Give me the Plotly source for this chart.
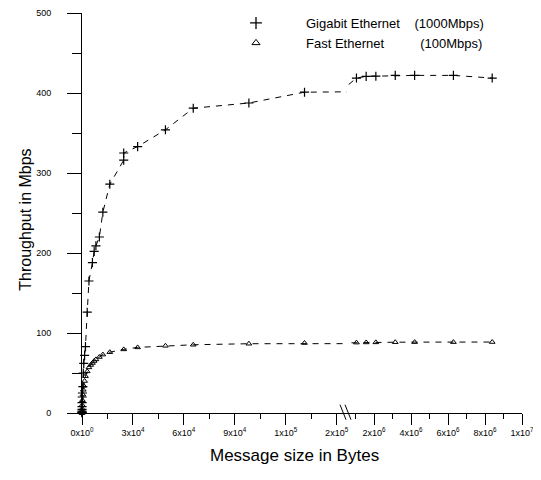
import plotly.graph_objects as go

# ---------------- data ----------------
gige_size = [1, 2, 4, 8, 16, 32, 64, 128, 256, 512,
             768, 1024, 1536, 2048, 3072, 4096,
             6144, 7168, 8192, 10240, 12288, 16384,
             24576, 24576, 32768, 49152, 65536, 98304, 131072,
             1048576, 1572864, 2097152, 3145728, 4194304, 6291456, 8388608]
gige_tput = [0.3, 0.6, 1.2, 2.4, 4.5, 8, 13, 20, 25, 33,
             50, 62, 72, 83, 126, 165,
             188, 202, 209, 220, 251, 286,
             316, 325, 333, 354, 381, 387.5, 401,
             418.7, 420.8, 421, 422, 422, 422, 418.7]

fe_size = [1, 2, 4, 8, 16, 32, 64, 128, 256, 512,
           768, 1024, 1536, 2048, 3072, 4096,
           5120, 6144, 7168, 8192, 10240, 12288, 16384,
           24576, 32768, 49152, 65536, 98304, 131072,
           1048576, 1572864, 2097152, 3145728, 4194304, 6291456, 8388608]
fe_tput = [0.1, 0.2, 0.4, 0.8, 1.5, 3, 5.5, 10, 16, 23,
           29, 34, 40, 46, 52, 57,
           60, 62.5, 65, 67, 70, 73, 76,
           79.5, 82, 84, 85.3, 86.6, 87.5,
           88, 88.2, 88.3, 88.5, 88.6, 88.6, 88.7]

legend_names = ["Gigabit Ethernet\u00a0\u00a0\u00a0\u00a0(1000Mbps)",
                "Fast Ethernet" + "\u00a0" * 10 + "(100Mbps)"]

x_left_tickvals = [0, 30000, 60000, 90000, 120000, 150000]
x_left_ticktext = ["0x10<sup>0</sup>", "3x10<sup>4</sup>", "6x10<sup>4</sup>",
                   "9x10<sup>4</sup>", "1x10<sup>5</sup>", "2x10<sup>5</sup>"]
x_left_minor = [15000, 45000, 75000, 105000, 135000]
x_right_tickvals = [2e6, 4e6, 6e6, 8e6, 1e7]
x_right_ticktext = ["2x10<sup>6</sup>", "4x10<sup>6</sup>", "6x10<sup>6</sup>",
                    "8x10<sup>6</sup>", "1x10<sup>7</sup>"]
x_right_minor = [1e6, 3e6, 5e6, 7e6, 9e6]
y_tickvals = [0, 100, 200, 300, 400, 500]

# ---------------- layout constants ----------------
# the page body adds an 8px offset, so the figure is 8px smaller than the window
W, H = 533, 472
L, R, T, B = 74, 19, 5, 67
PW, PH = W - L - R, H - T - B          # 440 x 400
X0_WIN, Y0_WIN = 82, 413.3             # plot-area origin in window pixels
BREAK_PX = 347
split = (BREAK_PX - X0_WIN) / PW
left_max = 156100
right_min = 537000
font_family = "Liberation Sans, Arial, sans-serif"


def px2paper(px, py):
    return (px - X0_WIN) / PW, (Y0_WIN - py) / PH


def split_series(sizes, vals):
    # left part + first right point (for the connecting line); right part + last left point
    li = [i for i, s in enumerate(sizes) if s <= left_max]
    ri = [i for i, s in enumerate(sizes) if s > left_max]
    lx = [sizes[i] for i in li] + [sizes[ri[0]]]
    ly = [vals[i] for i in li] + [vals[ri[0]]]
    rx = [sizes[li[-1]]] + [sizes[i] for i in ri]
    ry = [vals[li[-1]]] + [vals[i] for i in ri]
    return lx, ly, rx, ry


fig = go.Figure()

line_style = dict(color="black", width=1, dash="6px,6px")
gige_marker = dict(symbol="cross-thin", size=6.5, line=dict(color="black", width=1.2), color="black")
fe_marker = dict(symbol="triangle-up-open", size=5, line=dict(color="black", width=1), color="black")

for sizes, vals, mk in [(gige_size, gige_tput, gige_marker), (fe_size, fe_tput, fe_marker)]:
    lx, ly, rx, ry = split_series(sizes, vals)
    fig.add_trace(go.Scatter(x=lx, y=ly, mode="lines+markers", line=line_style, marker=mk,
                             xaxis="x", yaxis="y", showlegend=False, cliponaxis=False,
                             hoverinfo="x+y"))
    fig.add_trace(go.Scatter(x=rx, y=ry, mode="lines+markers", line=line_style, marker=mk,
                             xaxis="x2", yaxis="y", showlegend=False, cliponaxis=True,
                             hoverinfo="x+y"))

# legend-only entries (symbols without line)
fig.add_trace(go.Scatter(x=[None], y=[None], mode="markers", name=legend_names[0],
                         marker=dict(symbol="cross-thin", size=8.5,
                                     line=dict(color="black", width=1.3), color="black")))
fig.add_trace(go.Scatter(x=[None], y=[None], mode="markers", name=legend_names[1],
                         marker=dict(symbol="triangle-up-open", size=7,
                                     line=dict(color="black", width=1), color="black")))

axis_common = dict(showline=True, linecolor="black", linewidth=1, ticks="outside",
                   tickcolor="black", tickwidth=1, showgrid=False, zeroline=False,
                   tickfont=dict(family=font_family, size=9, color="black"))

fig.update_layout(
    width=W, height=H,
    margin=dict(l=L, r=R, t=T, b=B, autoexpand=False),
    paper_bgcolor="white", plot_bgcolor="white",
    font=dict(family=font_family, color="black"),
    xaxis=dict(domain=[0, split], range=[0, left_max], anchor="y",
               tickmode="array", tickvals=x_left_tickvals, ticktext=x_left_ticktext,
               ticklen=11,
               minor=dict(tickmode="array", tickvals=x_left_minor, ticklen=5,
                          tickcolor="black", ticks="outside", showgrid=False),
               **axis_common),
    xaxis2=dict(domain=[split, 1], range=[right_min, 1e7], anchor="y",
                tickmode="array", tickvals=x_right_tickvals, ticktext=x_right_ticktext,
                ticklen=11,
                minor=dict(tickmode="array", tickvals=x_right_minor, ticklen=5,
                           tickcolor="black", ticks="outside", showgrid=False),
                **axis_common),
    yaxis=dict(domain=[0, 1], range=[0, 500], anchor="x",
               tickmode="array", tickvals=y_tickvals, ticklen=14,
               ticklabelstandoff=14,
               minor=dict(dtick=50, tick0=0, ticklen=9, tickcolor="black",
                          ticks="outside", showgrid=False),
               **axis_common),
    legend=dict(x=px2paper(206, 0)[0], y=px2paper(0, 8.3)[1], xanchor="left", yanchor="top",
                bgcolor="rgba(0,0,0,0)", borderwidth=0, itemwidth=90,
                font=dict(family=font_family, size=13, color="black"),
                itemclick=False, itemdoubleclick=False),
    showlegend=True,
)

# axis titles
tx, ty = px2paper(294, 456)
fig.add_annotation(text="Message size in Bytes", x=tx, y=ty, xref="paper", yref="paper",
                   showarrow=False, xanchor="center", yanchor="middle",
                   font=dict(family=font_family, size=17, color="black"))
tx, ty = px2paper(26, 220)
fig.add_annotation(text="Throughput in Mbps", x=tx, y=ty, xref="paper", yref="paper",
                   showarrow=False, xanchor="center", yanchor="middle", textangle=-90,
                   font=dict(family=font_family, size=16, color="black"))

# axis break marks
for x0 in (340, 345):
    a0, b0 = px2paper(x0, 405)
    a1, b1 = px2paper(x0 + 6, 420)
    fig.add_shape(type="line", xref="paper", yref="paper", x0=a0, y0=b0, x1=a1, y1=b1,
                  line=dict(color="black", width=1))

fig.write_html("out.html")
